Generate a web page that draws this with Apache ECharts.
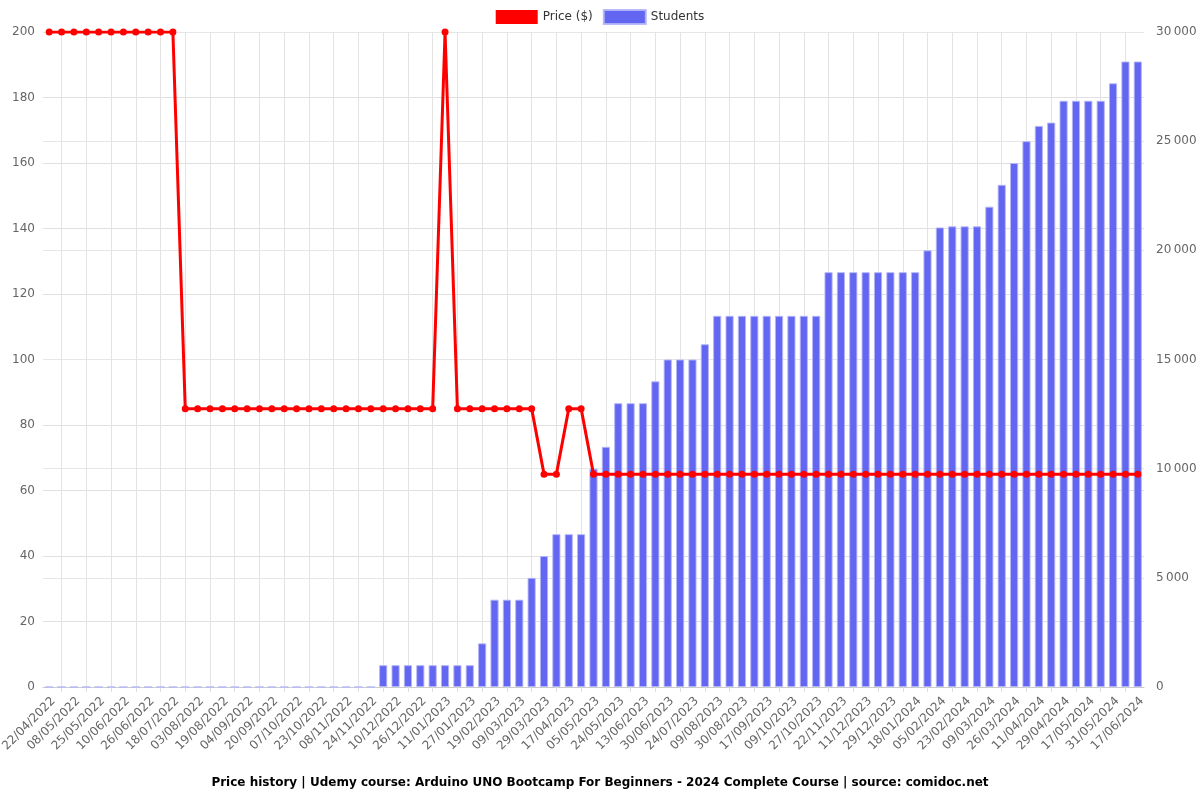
<!DOCTYPE html>
<html>
<head>
<meta charset="utf-8">
<script src="https://cdn.jsdelivr.net/npm/echarts@6/dist/echarts.min.js"></script>
<style>html,body{margin:0;padding:0;background:#fff;}#c{width:1200px;height:800px;}</style>
</head>
<body>
<div id="c"></div>
<script>
const dates = [
'22/04/2022','30/04/2022','08/05/2022','16/05/2022','25/05/2022','02/06/2022','10/06/2022','18/06/2022','26/06/2022','06/07/2022',
'18/07/2022','26/07/2022','03/08/2022','11/08/2022','19/08/2022','27/08/2022','04/09/2022','12/09/2022','20/09/2022','29/09/2022',
'07/10/2022','15/10/2022','23/10/2022','31/10/2022','08/11/2022','16/11/2022','24/11/2022','02/12/2022','10/12/2022','18/12/2022',
'26/12/2022','03/01/2023','11/01/2023','19/01/2023','27/01/2023','07/02/2023','19/02/2023','28/02/2023','09/03/2023','19/03/2023',
'29/03/2023','08/04/2023','17/04/2023','26/04/2023','05/05/2023','14/05/2023','24/05/2023','03/06/2023','13/06/2023','21/06/2023',
'30/06/2023','11/07/2023','24/07/2023','01/08/2023','09/08/2023','19/08/2023','30/08/2023','08/09/2023','17/09/2023','28/09/2023',
'09/10/2023','18/10/2023','27/10/2023','08/11/2023','22/11/2023','01/12/2023','11/12/2023','20/12/2023','29/12/2023','08/01/2024',
'18/01/2024','27/01/2024','05/02/2024','14/02/2024','23/02/2024','01/03/2024','09/03/2024','17/03/2024','26/03/2024','03/04/2024',
'11/04/2024','20/04/2024','29/04/2024','08/05/2024','17/05/2024','24/05/2024','31/05/2024','09/06/2024','17/06/2024'
];
const price = [
200,200,200,200,200,200,200,200,200,200,
200,85,85,85,85,85,85,85,85,85,
85,85,85,85,85,85,85,85,85,85,
85,85,200,85,85,85,85,85,85,85,
65,65,85,85,65,65,65,65,65,65,
65,65,65,65,65,65,65,65,65,65,
65,65,65,65,65,65,65,65,65,65,
65,65,65,65,65,65,65,65,65,65,
65,65,65,65,65,65,65,65,65
];
const students = [
0,0,0,0,0,0,0,0,0,0,
0,0,0,0,0,0,0,0,0,0,
0,0,0,0,0,0,0,1000,1000,1000,
1000,1000,1000,1000,1000,2000,4000,4000,4000,5000,
6000,7000,7000,7000,10000,11000,13000,13000,13000,14000,
15000,15000,15000,15700,17000,17000,17000,17000,17000,17000,
17000,17000,17000,19000,19000,19000,19000,19000,19000,19000,
19000,20000,21050,21100,21100,21100,22000,23000,24000,25000,
25700,25850,26850,26850,26850,26850,27650,28650,28650
];
const titleText = 'Price history | Udemy course: Arduino UNO Bootcamp For Beginners - 2024 Complete Course | source: comidoc.net';

const FONT = 'DejaVu Sans';
const chart = echarts.init(document.getElementById('c'), null, {renderer: 'canvas'});
const oddOnly = (i) => i % 2 === 1;
chart.setOption({
  animation: false,
  textStyle: {fontFamily: FONT},
  title: {
    text: titleText, left: 'center', bottom: 6,
    textStyle: {fontFamily: FONT, fontSize: 12, fontWeight: 'bold', color: '#000'}
  },
  legend: {
    top: 4, left: 'center', itemWidth: 42, itemHeight: 14, itemGap: 10,
    textStyle: {fontFamily: FONT, fontSize: 12, color: '#333'},
    data: [{name: 'Price ($)', icon: 'rect'}, {name: 'Students', icon: 'rect'}]
  },
  grid: {left: 43, right: 56, top: 32, bottom: 113, containLabel: false, outerBoundsMode: 'none'},
  xAxis: {
    type: 'category', data: dates, boundaryGap: true,
    axisLine: {lineStyle: {color: '#ccc'}},
    axisTick: {show: true, alignWithLabel: true, interval: oddOnly, length: 5, lineStyle: {color: '#ddd'}},
    splitLine: {show: true, alignWithLabel: true, interval: oddOnly, lineStyle: {color: '#e3e3e3'}},
    axisLabel: {interval: 1, rotate: 45, verticalAlign: 'top', fontFamily: FONT, fontSize: 12, color: '#666', margin: 8}
  },
  yAxis: [
    {type: 'value', min: 0, max: 200, interval: 20, position: 'left',
     axisLine: {show: false}, axisTick: {show: false},
     splitLine: {lineStyle: {color: '#e0e0e0'}},
     axisLabel: {fontFamily: FONT, fontSize: 12, color: '#666', margin: 8}},
    {type: 'value', min: 0, max: 30000, interval: 5000, position: 'right',
     axisLine: {show: false}, axisTick: {show: false},
     splitLine: {lineStyle: {color: '#e6e6e6'}},
     axisLabel: {fontFamily: FONT, fontSize: 12, color: '#666', margin: 12,
       formatter: (v) => String(v).replace(/\B(?=(\d{3})+(?!\d))/g, '\u2009')}}
  ],
  series: [
    {name: 'Students', type: 'bar', yAxisIndex: 1, data: students, barWidth: '66%',
     itemStyle: {color: '#6366f1', borderColor: 'rgba(180,182,248,0.9)', borderWidth: 1}, z: 1},
    {name: 'Price ($)', type: 'line', yAxisIndex: 0, data: price,
     symbol: 'circle', symbolSize: 7, showSymbol: true,
     lineStyle: {color: '#ff0000', width: 3}, itemStyle: {color: '#ff0000'}, z: 3}
  ]
});
</script>
</body>
</html>
